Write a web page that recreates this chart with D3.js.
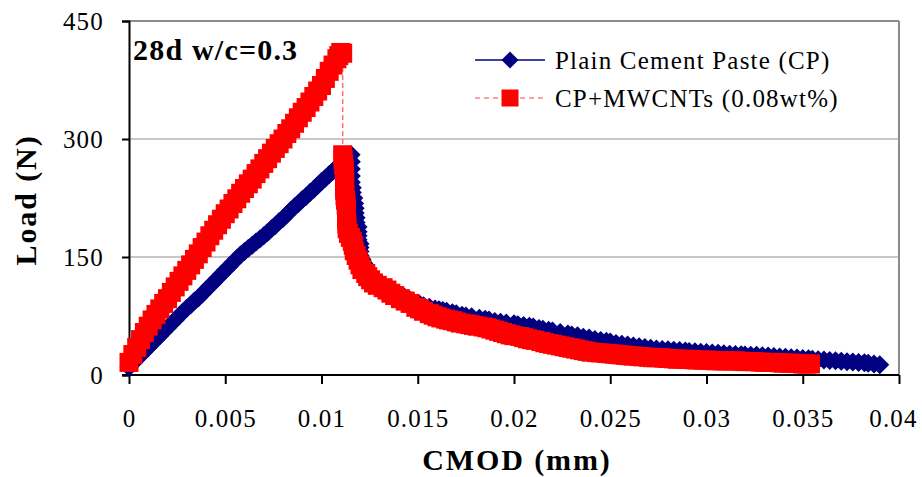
<!DOCTYPE html>
<html>
<head>
<meta charset="utf-8">
<script src="https://cdn.jsdelivr.net/npm/d3@7"></script>
<style>
  body { margin: 0; background: #fff; }
  svg { display: block; font-family: "Liberation Serif", "Times New Roman", serif; }
</style>
</head>
<body>
<div id="chart"></div>
<script>
// Plain Cement Paste (CP) - loading branch
const cpRiseCmod = [0, 0.0002, 0.0004, 0.0006, 0.0008, 0.001, 0.0012, 0.0014, 0.0016, 0.0018,
  0.002, 0.0022, 0.0024, 0.0026, 0.0028, 0.003, 0.0032, 0.0034, 0.0036, 0.0038,
  0.004, 0.0042, 0.0044, 0.0046, 0.0048, 0.005, 0.0052, 0.0054, 0.0056, 0.0058,
  0.006, 0.0062, 0.0064, 0.0066, 0.0068, 0.007, 0.0072, 0.0074, 0.0076, 0.0078,
  0.008, 0.0082, 0.0084, 0.0086, 0.0088, 0.009, 0.0092, 0.0094, 0.0096, 0.0098,
  0.01, 0.0102, 0.0104, 0.0106, 0.0108, 0.011, 0.0112, 0.0114, 0.01154];
const cpRiseLoad = [10, 15, 20, 25, 30, 35, 40, 45, 50, 55,
  60, 65, 70, 75, 80, 85, 89, 94, 98, 103,
  108, 113, 118, 123, 128, 133, 138, 143, 148, 153,
  157, 161, 165, 169, 173, 177, 181, 186, 190, 195,
  199, 204, 209, 214, 218, 223, 227, 232, 236, 241,
  246, 250, 255, 259, 264, 268, 273, 277, 280];

// Plain Cement Paste (CP) - softening branch
const cpTailCmod = [0.01155, 0.01155, 0.01155, 0.01155, 0.0116, 0.0116, 0.01168, 0.01172, 0.01175, 0.01175,
  0.0118, 0.0118, 0.0119, 0.0119, 0.0119, 0.0119, 0.012, 0.012, 0.012, 0.012,
  0.0121, 0.0122, 0.0123, 0.0123, 0.0125, 0.0126, 0.0128, 0.013, 0.0132, 0.0135,
  0.0137, 0.014, 0.0143, 0.0146, 0.0148, 0.0151, 0.0153, 0.0156, 0.0159, 0.0161,
  0.0163, 0.0165, 0.0168, 0.017, 0.0173, 0.0175, 0.0178, 0.0182, 0.0185, 0.0187,
  0.019, 0.0193, 0.0196, 0.02, 0.0202, 0.0205, 0.0208, 0.021, 0.0213, 0.0215,
  0.0218, 0.022, 0.0224, 0.0228, 0.023, 0.0233, 0.0236, 0.0239, 0.0242, 0.0245,
  0.0248, 0.025, 0.0253, 0.0256, 0.0259, 0.0262, 0.0265, 0.0268, 0.0271, 0.0274,
  0.0277, 0.028, 0.0283, 0.0286, 0.0289, 0.0291, 0.0294, 0.0297, 0.03, 0.0303,
  0.0306, 0.0309, 0.0312, 0.0315, 0.0318, 0.032, 0.0323, 0.0326, 0.0329, 0.0332,
  0.0335, 0.0338, 0.0341, 0.0344, 0.0347, 0.035, 0.0353, 0.0355, 0.0358, 0.0361,
  0.0364, 0.0367, 0.037, 0.0373, 0.0376, 0.0379, 0.0382, 0.0384, 0.0387, 0.039];
const cpTailLoad = [271, 262, 253, 245, 238, 232, 225, 218, 212, 206,
  200, 194, 188, 182, 177, 172, 167, 162, 157, 152,
  147, 142, 138, 134, 129, 125, 121, 117, 114, 110,
  106, 103, 99, 95, 92, 90, 88, 86, 84, 83,
  82, 81, 79, 78, 76, 75, 74, 72, 71, 70,
  68, 67, 66, 65, 64, 63, 62, 61, 59, 58,
  57, 56, 54, 52, 51, 50, 48, 47, 45, 44,
  43, 42, 40, 39, 38, 37, 36, 35, 34, 33,
  32.5, 32, 31.5, 31, 30.5, 30, 29.5, 29, 28.5, 28,
  27.5, 27, 26.5, 26, 25.7, 25.5, 25.2, 25, 24.5, 24,
  23.5, 23, 22.5, 22, 21.5, 21, 20.5, 20, 19.5, 19,
  18.5, 18, 17.5, 17, 16.5, 16, 15.5, 15, 14, 13];

// CP+MWCNTs (0.08wt%) - loading branch
const cntRiseCmod = [0, 0.0002, 0.0004, 0.0006, 0.0008, 0.001, 0.0012, 0.0014, 0.0016, 0.0018,
  0.002, 0.0022, 0.0024, 0.0026, 0.0028, 0.003, 0.0032, 0.0034, 0.0036, 0.0038,
  0.004, 0.0042, 0.0044, 0.0046, 0.0048, 0.005, 0.0052, 0.0054, 0.0056, 0.0058,
  0.006, 0.0062, 0.0064, 0.0066, 0.0068, 0.007, 0.0072, 0.0074, 0.0076, 0.0078,
  0.008, 0.0082, 0.0084, 0.0086, 0.0088, 0.009, 0.0092, 0.0094, 0.0096, 0.0098,
  0.01, 0.0102, 0.0104, 0.0106, 0.0108, 0.0109, 0.011, 0.0111];
const cntRiseLoad = [16, 26, 35, 45, 54, 62, 70, 77, 84, 91,
  97, 105, 112, 119, 126, 133, 140, 147, 154, 162,
  169, 177, 184, 191, 198, 205, 211, 218, 224, 231,
  237, 243, 249, 256, 262, 269, 275, 282, 288, 294,
  300, 307, 313, 320, 327, 334, 340, 347, 354, 361,
  368, 377, 386, 394, 402, 406, 410, 409];

// CP+MWCNTs (0.08wt%) - softening branch
const cntTailCmod = [0.0111, 0.01112, 0.01115, 0.01118, 0.0112, 0.0112, 0.0112, 0.0112, 0.0112, 0.01122,
  0.01125, 0.01128, 0.0113, 0.0113, 0.0113, 0.01132, 0.01133, 0.0114, 0.0115, 0.0116,
  0.01165, 0.0117, 0.0118, 0.0119, 0.012, 0.0121, 0.0123, 0.0124, 0.01255, 0.0127,
  0.0129, 0.0132, 0.0134, 0.0136, 0.0138, 0.0141, 0.01435, 0.0146, 0.0149, 0.0151,
  0.0153, 0.0156, 0.0158, 0.016, 0.0162, 0.01645, 0.0166, 0.0168, 0.017, 0.0172,
  0.0175, 0.0177, 0.0179, 0.0181, 0.0184, 0.0186, 0.0188, 0.019, 0.0192, 0.0194,
  0.0196, 0.0198, 0.02, 0.0203, 0.0205, 0.0207, 0.0209, 0.0211, 0.0214, 0.0216,
  0.0218, 0.022, 0.0222, 0.0224, 0.0226, 0.0228, 0.023, 0.0232, 0.0234, 0.0236,
  0.0238, 0.024, 0.0243, 0.0245, 0.0248, 0.025, 0.0252, 0.0254, 0.0256, 0.0258,
  0.026, 0.0262, 0.0265, 0.0267, 0.027, 0.0272, 0.0274, 0.0276, 0.0278, 0.028,
  0.0283, 0.0285, 0.0288, 0.029, 0.0293, 0.0295, 0.0298, 0.03, 0.0303, 0.0305,
  0.0308, 0.031, 0.0313, 0.0315, 0.0318, 0.032, 0.0323, 0.0325, 0.0328, 0.033,
  0.0333, 0.0335, 0.0338, 0.034, 0.0343, 0.0345, 0.0348, 0.035, 0.0352, 0.0354];
const cntTailLoad = [280, 274, 268, 262, 257, 251, 246, 240, 235, 228,
  222, 216, 210, 204, 198, 192, 186, 180, 175, 170,
  165, 158, 152, 146, 140, 134, 129, 125, 121, 117,
  114, 111, 108, 104, 101, 97, 94, 91, 86, 84,
  81, 78, 76, 74, 72.5, 71, 70, 69, 67.5, 66,
  65, 64, 63, 62, 61, 60, 58.5, 57, 55.5, 54,
  52.5, 51, 50, 49, 47.5, 46, 45, 44, 42.5, 41,
  40, 39, 38, 37, 36, 35, 34, 33, 32, 31,
  30, 29, 28.5, 28, 27.5, 27, 26.5, 26, 25.5, 25,
  24.5, 24, 23.5, 23, 22.5, 22, 22, 22, 21.5, 21,
  20.5, 20, 20, 20, 19.5, 19, 19, 19, 18.5, 18,
  18, 18, 18, 18, 17.5, 17, 17, 17, 16.5, 16,
  16, 16, 15.5, 15, 15, 15, 14.5, 14, 14, 14];

const xTicks = [0, 0.005, 0.01, 0.015, 0.02, 0.025, 0.03, 0.035, 0.04];
const xTickLabels = ["0", "0.005", "0.01", "0.015", "0.02", "0.025", "0.03", "0.035", "0.04"];
const yTicks = [0, 150, 300, 450];
const seriesNames = ["Plain Cement Paste (CP)", "CP+MWCNTs (0.08wt%)"];

const width = 922;
const height = 477;
const margin = { top: 21, right: 23, bottom: 102, left: 129 };

const svg = d3.select("#chart")
  .append("svg")
  .attr("width", width)
  .attr("height", height);

const x = d3.scaleLinear()
  .domain([0, 0.04])
  .range([margin.left, width - margin.right]);

const y = d3.scaleLinear()
  .domain([0, 450])
  .range([height - margin.bottom, margin.top]);

// grid lines (top one doubles as the plot border)
svg.append("g")
  .selectAll("line")
  .data(yTicks.filter(d => d > 0))
  .enter()
  .append("line")
  .attr("x1", x(0))
  .attr("x2", x(0.04))
  .attr("y1", d => y(d))
  .attr("y2", d => y(d))
  .attr("stroke", d => d === 450 ? "#8c8c8c" : "#c8c8c8")
  .attr("stroke-width", 2);

svg.append("line")
  .attr("x1", x(0.04)).attr("x2", x(0.04))
  .attr("y1", y(450)).attr("y2", y(0))
  .attr("stroke", "#8c8c8c")
  .attr("stroke-width", 2);

// axes
const xAxis = svg.append("g")
  .attr("transform", `translate(0, ${y(0)})`)
  .call(d3.axisBottom(x).tickValues(xTicks).tickSize(9).tickFormat((d, i) => xTickLabels[i]));

const yAxis = svg.append("g")
  .attr("transform", `translate(${x(0)}, 0)`)
  .call(d3.axisLeft(y).tickValues(yTicks).tickSize(7).tickFormat(d3.format("d")));

[xAxis, yAxis].forEach(g => {
  g.select(".domain").attr("stroke", "#000").attr("stroke-width", 2);
  g.selectAll(".tick line").attr("stroke", "#000").attr("stroke-width", 2);
  g.selectAll(".tick text")
    .attr("fill", "#000")
    .style("font-family", "Liberation Serif")
    .style("font-size", "25px")
    .style("letter-spacing", "1.2px");
});
xAxis.select(".domain").attr("d", `M${x(0) - 7},0H${x(0.04)}`);
xAxis.selectAll(".tick text").attr("y", 0).attr("dy", "52px");
// last label sits at the window edge, pull it in a little
xAxis.selectAll(".tick text").filter(d => d === 0.04).attr("dx", "-6px");
yAxis.selectAll(".tick text").attr("x", -25).attr("dy", "0.35em");

const diamond = "M0,-9.5L9.5,0L0,9.5L-9.5,0Z";
const square = "M-9.5,-9.5H9.5V9.5H-9.5Z";

const cpCmod = cpRiseCmod.concat(cpTailCmod);
const cpLoad = cpRiseLoad.concat(cpTailLoad);
const cntCmod = cntRiseCmod.concat(cntTailCmod);
const cntLoad = cntRiseLoad.concat(cntTailLoad);

const cpData = cpCmod.map((c, i) => ({ cmod: c, load: cpLoad[i] }));
const cntData = cntCmod.map((c, i) => ({ cmod: c, load: cntLoad[i] }));

const line = d3.line()
  .x(d => x(d.cmod))
  .y(d => y(d.load));

// CP series
svg.append("path")
  .datum(cpData)
  .attr("fill", "none")
  .attr("stroke", "#000080")
  .attr("stroke-width", 1.5)
  .attr("d", line);

svg.append("g")
  .selectAll("path")
  .data(cpData)
  .enter()
  .append("path")
  .attr("transform", d => `translate(${x(d.cmod)}, ${y(d.load)})`)
  .attr("d", diamond)
  .attr("fill", "#000080");

// CNT series
svg.append("path")
  .datum(cntData)
  .attr("fill", "none")
  .attr("stroke", "#ff6f6f")
  .attr("stroke-width", 1.5)
  .attr("stroke-dasharray", "5,3")
  .attr("d", line);

svg.append("g")
  .selectAll("path")
  .data(cntData)
  .enter()
  .append("path")
  .attr("transform", d => `translate(${x(d.cmod)}, ${y(d.load)})`)
  .attr("d", square)
  .attr("fill", "#ff0000");

// legend
const legend = svg.append("g");
const legendRows = [
  { name: seriesNames[0], color: "#000080", lineColor: "#000080", dash: null, shape: "M0,-8.5L8.5,0L0,8.5L-8.5,0Z" },
  { name: seriesNames[1], color: "#ff0000", lineColor: "#ff8080", dash: "5,4", shape: "M-8.5,-8.5H8.5V8.5H-8.5Z" },
];
legendRows.forEach((r, i) => {
  const ly = 60 + i * 38;
  legend.append("line")
    .attr("x1", 475).attr("x2", 545)
    .attr("y1", ly).attr("y2", ly)
    .attr("stroke", r.lineColor)
    .attr("stroke-width", 1.5)
    .attr("stroke-dasharray", r.dash);
  legend.append("path")
    .attr("transform", `translate(510, ${ly})`)
    .attr("d", r.shape)
    .attr("fill", r.color);
  legend.append("text")
    .attr("x", 555)
    .attr("y", ly + 9)
    .style("font-size", "25px")
    .style("letter-spacing", "1.2px")
    .text(r.name);
});

// annotation
svg.append("text")
  .attr("x", 133)
  .attr("y", 60)
  .style("font-size", "30px")
  .style("font-weight", "bold")
  .style("letter-spacing", "1.2px")
  .text("28d w/c=0.3");

// axis titles
svg.append("text")
  .attr("x", 517)
  .attr("y", 470)
  .attr("text-anchor", "middle")
  .style("font-size", "30px")
  .style("font-weight", "bold")
  .style("letter-spacing", "1.9px")
  .text("CMOD (mm)");

svg.append("text")
  .attr("transform", "translate(36, 200) rotate(-90)")
  .attr("text-anchor", "middle")
  .style("font-size", "30px")
  .style("font-weight", "bold")
  .style("letter-spacing", "1.9px")
  .text("Load (N)");
</script>
</body>
</html>
